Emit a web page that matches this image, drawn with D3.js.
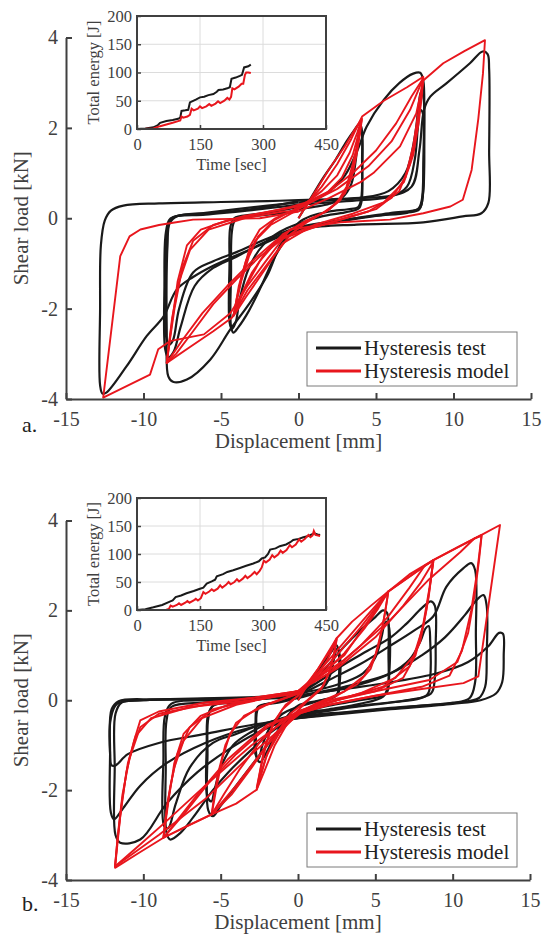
<!DOCTYPE html>
<html>
<head>
<meta charset="utf-8">
<script src="https://cdn.jsdelivr.net/npm/d3@7"></script>
<style>
  body { margin: 0; background: #fff; }
  svg { display: block; font-family: "Liberation Serif", "Times New Roman", serif; }
</style>
</head>
<body>
<script>

// ---- axis ticks
let dispTicks = [-15, -10, -5, 0, 5, 10, 15];
let loadTicks = [-4, -2, 0, 2, 4];
let timeTicks = [0, 150, 300, 450];
let energyTicks = [0, 50, 100, 150, 200];
let seriesNames = ["Hysteresis test", "Hysteresis model"];

// ---- panel a: hysteresis loops [displacement mm, load kN]
let testA = [
  [[0,0],[0.8,0.45],[1.6,0.9],[2.4,1.3],[3.1,1.7],[3.6,1.95],[3.9,2.08],[4.05,2.02],[4.1,1.3],[4.05,0.45],[3.85,0.25],[3.2,0.2],[2,0.15],[0.8,0.05],[0,-0.1],[-0.8,-0.45],[-1.6,-0.9],[-2.4,-1.5],[-3.2,-2.05],[-3.9,-2.42],[-4.2,-2.53],[-4.35,-2.4],[-4.35,-1.2],[-4.3,-0.3],[-4.1,-0.05],[-3.5,0.02],[-2,0.08],[-1,0.12],[0,0.2]],
  [[0,0.2],[1,0.25],[2,0.32],[2.8,0.45],[3.4,0.75],[3.7,1.3],[3.85,1.8],[3.98,1.98],[4.1,1.85],[4.12,1.0],[4.08,0.4],[3.9,0.22],[3,0.13],[1.5,0.04],[0,-0.12],[-1.2,-0.3],[-2.3,-0.6],[-3.2,-1.1],[-3.8,-1.8],[-4.05,-2.3],[-4.3,-2.45],[-4.45,-2.3],[-4.45,-1],[-4.4,-0.2],[-4.15,0],[-3,0.08],[-1.5,0.15],[0,0.25]],
  [[0,0.25],[1,0.4],[2,0.6],[3,0.95],[3.8,1.5],[4.4,2.03],[5.5,2.62],[6.5,2.99],[7.4,3.2],[7.85,3.22],[8.05,3.05],[8.1,2],[8.05,0.6],[7.8,0.2],[7,0.12],[5,0.05],[3,-0.05],[1,-0.15],[0,-0.25],[-1,-0.5],[-2.05,-1.29],[-3.3,-1.95],[-4.4,-2.46],[-5.7,-3.13],[-7.2,-3.57],[-8.1,-3.62],[-8.4,-3.5],[-8.5,-2.5],[-8.45,-0.6],[-8.3,-0.1],[-7.8,0.05],[-6,0.12],[-4,0.2],[-2,0.28],[0,0.35]],
  [[0,0.35],[2,0.4],[4,0.45],[5.8,0.6],[6.9,1.0],[7.5,1.8],[7.75,2.5],[7.9,2.8],[8.05,2.7],[8.1,1.5],[8.0,0.45],[7.8,0.22],[6,0.12],[4,0.02],[2,-0.1],[0,-0.22],[-2,-0.5],[-4,-0.85],[-5.5,-1.1],[-6.7,-1.5],[-7.6,-2.4],[-8.05,-2.95],[-8.4,-3.08],[-8.6,-2.9],[-8.65,-1.5],[-8.55,-0.3],[-8.25,0.0],[-6,0.08],[-3,0.18],[0,0.3]],
  [[0,0.3],[2,0.35],[4,0.4],[6,0.48],[7,0.7],[7.5,1.3],[7.7,2.0],[7.85,2.4],[8.0,2.35],[8.05,1.2],[7.95,0.4],[7.7,0.2],[6,0.1],[3,-0.03],[0,-0.2],[-2,-0.45],[-4,-0.75],[-5.5,-0.95],[-6.8,-1.2],[-7.7,-2.0],[-8.1,-2.7],[-8.35,-2.8],[-8.55,-2.6],[-8.55,-1.2],[-8.45,-0.2],[-8.1,0.02],[-6,0.1],[-3,0.2],[0,0.38]],
  [[0,0.4],[2,0.42],[4,0.45],[6,0.5],[7.3,0.7],[7.8,1.5],[8.1,2.4],[8.5,2.69],[9.56,2.99],[11.06,3.43],[11.88,3.69],[12.2,3.63],[12.3,3.3],[12.3,1.5],[12.25,0.34],[11.8,0.11],[10.6,0.04],[8.05,-0.09],[3.75,-0.14],[0.5,-0.22],[-1,-0.38],[-2.5,-0.6],[-4,-0.82],[-5.5,-1.05],[-6.8,-1.3],[-7.86,-1.58],[-8.7,-2.17],[-9.8,-2.61],[-11.1,-3.28],[-12.4,-3.86],[-12.65,-3.88],[-12.8,-3.7],[-12.8,-2],[-12.75,-0.6],[-12.5,-0.05],[-12.1,0.17],[-11.3,0.28],[-9,0.33],[-5,0.36],[-2,0.38],[0,0.4]]
];

let modelA = [
  [[0,0],[1,0.55],[2,1.1],[3,1.6],[3.6,1.95],[4.08,2.21],[3.9,1.8],[3.5,1.2],[3.1,0.7],[2.5,0.35],[1.5,0.1],[0.5,-0.1],[-0.5,-0.35],[-1.5,-0.8],[-2.5,-1.3],[-3.4,-1.75],[-4.2,-2.17],[-4.0,-1.8],[-3.6,-1.2],[-3.1,-0.6],[-2.5,-0.25],[-1.5,0],[-0.5,0.15],[0.5,0.35]],
  [[0.5,0.35],[1.5,0.6],[2.5,0.95],[3.3,1.45],[3.8,1.9],[4.08,2.2],[3.95,1.9],[3.7,1.4],[3.3,0.8],[2.7,0.4],[1.8,0.15],[0.5,-0.05],[-0.5,-0.25],[-1.5,-0.55],[-2.5,-0.95],[-3.3,-1.45],[-3.9,-1.9],[-4.2,-2.15],[-4.05,-1.95],[-3.7,-1.4],[-3.2,-0.85],[-2.6,-0.4],[-1.6,-0.05],[-0.5,0.15],[0.5,0.3]],
  [[0.5,0.3],[1.8,0.55],[2.8,0.9],[3.5,1.4],[3.9,1.9],[4.08,2.18],[4.0,1.95],[3.8,1.5],[3.5,1.0],[3.0,0.55],[2.0,0.2],[0.5,-0.08],[-1,-0.35],[-2,-0.7],[-3,-1.2],[-3.7,-1.7],[-4.2,-2.15],[-4.1,-2.0],[-3.85,-1.5],[-3.4,-0.95],[-2.8,-0.5],[-1.8,-0.15],[-0.5,0.1],[0.5,0.3]],
  [[0.5,0.3],[1.5,0.7],[2.5,1.2],[3.4,1.75],[4.1,2.25],[5.5,2.6],[7,2.9],[8.05,3.13],[7.8,2.5],[7.4,1.6],[6.9,0.9],[6,0.45],[4.5,0.15],[2.5,-0.05],[0.5,-0.25],[-1,-0.55],[-2.2,-1.1],[-3.3,-1.6],[-4.3,-2.2],[-5.5,-2.5],[-7,-2.85],[-8.5,-3.2],[-8.2,-2.4],[-7.8,-1.4],[-7.2,-0.6],[-6.3,-0.25],[-4.6,-0.05],[-2.5,0.1],[-0.5,0.25],[0.5,0.35]],
  [[0.5,0.35],[2,0.6],[3.5,1.0],[5,1.5],[6.3,2.1],[7.3,2.7],[8.05,3.1],[7.9,2.6],[7.6,1.9],[7.2,1.2],[6.5,0.6],[5,0.2],[3,0],[1,-0.2],[-1,-0.45],[-2.5,-0.85],[-4,-1.35],[-5.5,-1.9],[-6.8,-2.5],[-7.9,-3.0],[-8.5,-3.2],[-8.3,-2.7],[-8.0,-2.0],[-7.5,-1.1],[-6.8,-0.5],[-5.5,-0.15],[-3.5,0.05],[-1,0.2],[0.5,0.3]],
  [[0.5,0.3],[2.5,0.65],[4.5,1.15],[6,1.7],[7.2,2.4],[8.05,3.1],[7.95,2.7],[7.75,2.1],[7.4,1.4],[6.8,0.8],[5.5,0.35],[3.5,0.1],[1,-0.15],[-1.5,-0.5],[-3,-0.95],[-4.6,-1.5],[-6.2,-2.1],[-7.5,-2.7],[-8.5,-3.2],[-8.4,-2.9],[-8.15,-2.2],[-7.7,-1.4],[-7.0,-0.7],[-5.8,-0.25],[-3.5,0.0],[-1,0.15],[0,0.15]],
  [[0,0.15],[2,0.45],[4,0.8],[4.83,1.0],[6.55,1.59],[7.6,2.32],[8.05,3.05],[9.34,3.43],[10.7,3.7],[12.03,3.94],[11.9,3.2],[11.6,2.2],[11.17,1.07],[10.6,0.41],[9.8,0.26],[8.05,0.11],[5.9,-0.03],[2.7,-0.09],[-0.55,-0.25],[-2,-0.9],[-3.3,-1.5],[-4.4,-2.1],[-6.1,-2.57],[-8.3,-2.72],[-9.05,-2.9],[-9.58,-3.46],[-12.6,-3.97],[-11.5,-0.84],[-10.9,-0.4],[-10.2,-0.25],[-9,-0.15],[-8.1,-0.1],[-6.8,-0.03],[-2.5,0.0],[0,0.15]]
];

// ---- panel a: total energy [time sec, energy J]
let energyTestA = [[0,0],[20,1],[39,3],[50,7],[55,11],[70,14],[85,16],[98,18],[103,20],[106,32],[115,33],[122,34],[126,47],[140,52],[150,56],[160,57],[170,60],[182,62],[190,66],[194,69],[205,70],[215,72],[221,74],[225,89],[235,91],[245,94],[250,96],[255,109],[265,111],[271,114]];
let energyModelA = [[0,0],[20,0.3],[39,1],[55,5],[70,8],[85,11],[98,14],[103,15],[106,22],[110,20],[120,22],[126,25],[130,36],[135,33],[145,36],[150,40],[155,37],[165,40],[172,44],[177,41],[187,45],[193,49],[198,46],[208,50],[215,55],[220,52],[224,57],[227,72],[232,70],[242,75],[249,80],[253,80],[257,96],[260,100],[265,100],[271,99]];

// ---- panel b: hysteresis loops
let testB = [
  [[0,0],[0.8,0.4],[1.6,0.8],[2.2,1.1],[2.45,1.23],[2.6,1.15],[2.65,0.5],[2.55,0.15],[2.2,0.05],[1.2,-0.02],[0,-0.12],[-0.8,-0.4],[-1.5,-0.8],[-2.1,-1.2],[-2.45,-1.38],[-2.65,-1.3],[-2.7,-0.6],[-2.6,-0.2],[-2.2,-0.1],[-1.2,-0.05],[0,0.05]],
  [[0,0.05],[1,0.15],[1.8,0.35],[2.2,0.7],[2.4,1.05],[2.55,1.15],[2.7,1.0],[2.7,0.4],[2.55,0.12],[1.5,0.0],[0,-0.15],[-1,-0.3],[-1.8,-0.6],[-2.3,-1.0],[-2.55,-1.3],[-2.75,-1.2],[-2.75,-0.5],[-2.6,-0.15],[-1.5,-0.05],[0,0.08]],
  [[0,0.08],[1,0.4],[2,0.8],[3,1.2],[4,1.55],[5,1.85],[5.5,2.0],[5.75,1.95],[5.85,1.0],[5.8,0.3],[5.5,0.08],[4,-0.08],[2,-0.2],[0,-0.32],[-1,-0.6],[-2,-1.0],[-3,-1.45],[-4,-1.9],[-5,-2.35],[-5.5,-2.58],[-5.8,-2.45],[-5.85,-1.2],[-5.8,-0.4],[-5.5,-0.12],[-4,-0.05],[-2,0.05],[0,0.15]],
  [[0,0.15],[1.5,0.25],[3,0.4],[4.2,0.6],[5,0.95],[5.4,1.4],[5.6,1.7],[5.75,1.75],[5.9,1.6],[5.9,0.6],[5.7,0.15],[4,0.0],[2,-0.12],[0,-0.3],[-1.5,-0.45],[-3,-0.7],[-4.2,-1.0],[-5,-1.5],[-5.4,-2.0],[-5.6,-2.25],[-5.85,-2.15],[-5.9,-1.0],[-5.8,-0.3],[-5.4,-0.1],[-3,0.0],[0,0.12]],
  [[0,0.12],[1.5,0.45],[3,0.8],[4.5,1.1],[6,1.4],[7,1.7],[8,2.05],[8.6,2.2],[8.85,2.1],[8.9,1.2],[8.85,0.5],[8.6,0.15],[7,0.0],[4,-0.12],[2,-0.22],[0,-0.35],[-1.5,-0.65],[-3,-1.1],[-4.5,-1.6],[-5.5,-2.0],[-6.77,-2.6],[-7.6,-2.95],[-8.27,-3.1],[-8.5,-2.95],[-8.55,-1.5],[-8.5,-0.45],[-8.2,-0.15],[-6,-0.05],[-3,0.02],[0,0.1]],
  [[0,0.1],[2,0.2],[4,0.35],[6,0.6],[7.2,0.9],[7.9,1.3],[8.25,1.6],[8.45,1.65],[8.55,1.3],[8.55,0.5],[8.35,0.12],[6,-0.05],[3,-0.18],[0,-0.35],[-2,-0.5],[-4,-0.75],[-5.5,-0.95],[-7,-1.5],[-7.9,-2.3],[-8.4,-2.85],[-8.65,-2.8],[-8.7,-1.3],[-8.6,-0.35],[-8.2,-0.08],[-5,0.0],[0,0.1]],
  [[0,0.1],[2,0.45],[4,0.8],[5.9,1.2],[7.5,1.55],[8.75,1.87],[9.6,2.53],[10.7,2.94],[11.2,3.05],[11.45,2.9],[11.5,1.5],[11.45,0.4],[11.1,0.05],[10,-0.06],[8,-0.12],[4,-0.25],[0,-0.37],[-2.5,-0.7],[-4.5,-1.1],[-6.5,-1.6],[-8.5,-2.3],[-10.2,-3.1],[-11.5,-3.17],[-11.8,-3.0],[-11.85,-1.5],[-11.8,-0.3],[-11.4,-0.05],[-10,0.0],[-6,0.03],[-3,0.05],[0,0.1]],
  [[0,0.1],[3,0.3],[6,0.6],[8,1.0],[9.5,1.4],[10.8,1.9],[11.6,2.25],[12.0,2.34],[12.2,2.1],[12.2,1.0],[12.1,0.3],[11.7,0.05],[10,-0.06],[6,-0.17],[3,-0.27],[0,-0.4],[-3,-0.6],[-6,-0.95],[-8.5,-1.4],[-10.2,-1.9],[-11.3,-2.4],[-11.9,-2.65],[-12.1,-2.5],[-12.15,-1.2],[-12.05,-0.2],[-11.6,-0.02],[-9,0.02],[-4,0.06],[0,0.1]],
  [[0,0.1],[3,0.25],[6,0.4],[9,0.6],[11,0.85],[12.3,1.2],[13.0,1.5],[13.25,1.48],[13.3,1.0],[13.2,0.4],[12.8,0.15],[11.8,0.0],[10,-0.08],[6,-0.2],[3,-0.3],[0,-0.4],[-3,-0.55],[-6,-0.75],[-9,-0.95],[-11,-1.2],[-11.8,-1.45],[-12.05,-1.45],[-12.15,-1.2],[-12.1,-0.4],[-11.7,-0.08],[-10,0],[-6,0.02],[0,0.05]]
];

let modelB = [
  [[0,0],[1,0.55],[2,1.05],[2.5,1.38],[2.3,1.0],[2.0,0.6],[1.5,0.25],[0.5,-0.05],[-0.5,-0.4],[-1.5,-1.0],[-2.2,-1.6],[-2.67,-1.99],[-2.4,-1.5],[-2.0,-0.9],[-1.5,-0.45],[-0.8,-0.1],[0,0.1]],
  [[0,0.1],[1,0.45],[1.9,0.9],[2.5,1.35],[2.35,1.05],[2.1,0.7],[1.6,0.3],[0.6,0.0],[-0.5,-0.3],[-1.4,-0.75],[-2.1,-1.3],[-2.67,-1.95],[-2.5,-1.65],[-2.2,-1.1],[-1.7,-0.6],[-1.0,-0.2],[0,0.1]],
  [[0,0.1],[1.3,0.7],[2.5,1.38],[3.5,1.75],[4.7,2.1],[5.84,2.42],[5.6,1.9],[5.2,1.2],[4.7,0.7],[3.8,0.35],[2.5,0.1],[0.5,-0.2],[-1,-0.6],[-2,-1.2],[-2.67,-1.99],[-4,-2.3],[-5.58,-2.54],[-5.3,-2.0],[-4.9,-1.3],[-4.4,-0.75],[-3.5,-0.35],[-2,-0.1],[0,0.15]],
  [[0,0.15],[1.5,0.55],[3,1.05],[4.3,1.6],[5.2,2.05],[5.84,2.42],[5.7,2.1],[5.45,1.6],[5.0,1.0],[4.3,0.55],[3,0.2],[1,-0.1],[-1,-0.45],[-2.5,-0.95],[-3.8,-1.55],[-4.8,-2.1],[-5.58,-2.54],[-5.45,-2.2],[-5.15,-1.6],[-4.7,-1.0],[-4.0,-0.5],[-2.5,-0.15],[0,0.15]],
  [[0,0.15],[1.5,0.7],[3,1.3],[4.5,1.9],[5.84,2.42],[7.2,2.8],[8.75,3.12],[8.5,2.5],[8.1,1.7],[7.6,1.0],[6.8,0.5],[5,0.2],[2.5,0],[0,-0.25],[-1.5,-0.75],[-3,-1.5],[-4.3,-2.1],[-5.58,-2.54],[-7.2,-2.8],[-8.7,-3.06],[-8.4,-2.3],[-8.0,-1.4],[-7.4,-0.75],[-6.3,-0.35],[-4.5,-0.1],[-2,0.05],[0,0.2]],
  [[0,0.2],[2,0.6],[4,1.2],[5.8,1.85],[7.2,2.5],[8.2,3.0],[8.75,3.1],[8.6,2.7],[8.3,2.0],[7.9,1.3],[7.2,0.75],[5.5,0.3],[3,0.05],[0,-0.25],[-2,-0.6],[-4,-1.2],[-5.8,-1.85],[-7.3,-2.5],[-8.7,-3.06],[-8.55,-2.6],[-8.25,-1.9],[-7.8,-1.2],[-7.0,-0.6],[-5.5,-0.2],[-3,0.0],[0,0.2]],
  [[0,0.2],[2.5,0.7],[5,1.4],[6.8,2.1],[7.9,2.6],[8.75,3.08],[8.65,2.85],[8.45,2.3],[8.1,1.65],[7.5,1.0],[6.3,0.5],[4,0.15],[1,-0.15],[-2,-0.55],[-4.5,-1.3],[-6.5,-2.1],[-8.7,-3.06],[-8.6,-2.75],[-8.4,-2.2],[-8.0,-1.5],[-7.4,-0.9],[-6.2,-0.4],[-4,-0.1],[0,0.2]],
  [[0,0.2],[2,0.8],[4,1.6],[5.84,2.42],[8.75,3.12],[10.3,3.4],[11.87,3.68],[11.6,2.9],[11.2,2.0],[10.6,1.1],[9.8,0.55],[8,0.3],[5,0.1],[2,-0.1],[0,-0.3],[-2,-1.0],[-4,-1.9],[-5.58,-2.54],[-8.7,-3.06],[-10.3,-3.4],[-11.83,-3.73],[-11.5,-2.6],[-11.1,-1.6],[-10.6,-0.9],[-10.2,-0.45],[-9,-0.25],[-6,-0.05],[-3,0.05],[0,0.2]],
  [[0,0.2],[3,0.9],[6,1.8],[8.5,2.7],[10.5,3.3],[11.4,3.6],[11.87,3.66],[11.7,3.1],[11.4,2.3],[11.0,1.5],[10.3,0.85],[8.5,0.45],[5,0.2],[2,0],[0,-0.25],[-3,-1.0],[-6,-1.9],[-8.7,-2.75],[-10.5,-3.3],[-11.83,-3.7],[-11.65,-3.0],[-11.35,-2.1],[-10.9,-1.3],[-10.2,-0.6],[-9,-0.3],[-6,-0.1],[-3,0.05],[0,0.2]],
  [[0,0.2],[3,1.0],[5.84,2.42],[8.75,3.12],[11.87,3.68],[13.06,3.9],[11.66,0.53],[10.7,0.38],[8,0.25],[5,0.1],[2,-0.1],[0,-0.3],[-3,-1.2],[-6,-2.2],[-9,-3.0],[-11.83,-3.7],[-11.7,-3.2],[-11.4,-2.3],[-11.0,-1.4],[-10.5,-0.8],[-9.5,-0.4],[-7,-0.15],[-3,0.0],[0,0.15]]
];

// ---- panel b: total energy
let energyTestB = [[0,0],[20,1.5],[39,4.8],[60,9],[78,15],[85,17],[92,23],[105,26],[118,30],[135,34],[150,38],[158,40],[166,47],[178,51],[186,54],[190,60],[205,64],[215,68],[229,71],[245,75],[260,79],[277,83],[290,87],[297,92],[305,94],[312,100],[317,108],[330,110],[340,114],[355,117],[365,121],[372,125],[385,127],[396,130],[408,132],[416,135],[422,137],[430,135],[436,134]];
let energyModelB = [[0,0],[40,0],[70,0.5],[76,2],[80,8],[85,6],[95,9],[100,12],[105,9],[115,13],[120,16],[125,13],[135,17],[140,20],[145,17],[152,21],[158,32],[163,29],[172,33],[178,37],[183,34],[192,38],[198,44],[203,40],[212,45],[218,50],[223,46],[232,50],[238,55],[243,51],[252,56],[258,61],[263,57],[272,62],[280,68],[285,64],[292,70],[297,76],[302,88],[307,85],[316,90],[322,98],[327,94],[336,99],[342,106],[347,102],[356,107],[364,116],[369,112],[378,117],[386,126],[391,122],[400,127],[408,134],[413,130],[418,133],[421,141],[425,134],[436,132]];

let black = "#1a1a1a",
    red = "#e8161d",
    axisColor = "#404040";

init();

function init() {
  let svg = d3.select("body")
              .append("svg")
              .attr("width", 542)
              .attr("height", 937);

  svg.append("rect").attr("width", 542).attr("height", 937).attr("fill", "#fff");

  drawPanel(svg, {
    tag: "a.", tagY: 432,
    x: [66, 531], y: [399, 37.5],
    inset: {x: [137, 326], y: [129, 16]},
    legendY: 332,
    test: testA, model: modelA,
    eTest: energyTestA, eModel: energyModelA
  });

  drawPanel(svg, {
    tag: "b.", tagY: 911,
    x: [66, 530], y: [880, 520.5],
    inset: {x: [137, 326], y: [610, 498]},
    legendY: 813,
    test: testB, model: modelB,
    eTest: energyTestB, eModel: energyModelB
  });
}

function drawPanel(svg, p) {
  let x = d3.scaleLinear().domain([-15, 15]).range(p.x),
      y = d3.scaleLinear().domain([-4, 4]).range(p.y);

  let g = svg.append("g");

  // test curves are smooth, model curves piecewise
  let smoothLine = d3.line()
                     .x(d => x(d[0]))
                     .y(d => y(d[1]))
                     .curve(d3.curveCatmullRom.alpha(0.5));
  let line = d3.line()
               .x(d => x(d[0]))
               .y(d => y(d[1]));

  g.selectAll(".test")
   .data(p.test)
   .enter()
   .append("path")
   .attr("d", smoothLine)
   .attr("fill", "none")
   .attr("stroke", black)
   .attr("stroke-width", 2.2)
   .attr("stroke-linejoin", "round");

  g.selectAll(".model")
   .data(p.model)
   .enter()
   .append("path")
   .attr("d", line)
   .attr("fill", "none")
   .attr("stroke", red)
   .attr("stroke-width", 1.9)
   .attr("stroke-linejoin", "round");

  // axes (left + bottom only, ticks inward)
  let yAxis = g.append("g")
               .attr("transform", "translate(" + p.x[0] + ",0)")
               .call(d3.axisLeft(y).tickValues(loadTicks).tickSize(-6).tickSizeOuter(0)
                       .tickPadding(8).tickFormat(d => String(d)));
  let xAxis = g.append("g")
               .attr("transform", "translate(0," + p.y[0] + ")")
               .call(d3.axisBottom(x).tickValues(dispTicks).tickSize(-6).tickSizeOuter(0)
                       .tickPadding(13).tickFormat(d => String(d)));

  [yAxis, xAxis].forEach(a => {
    a.select(".domain").attr("stroke", axisColor).attr("stroke-width", 2);
    a.selectAll(".tick line").attr("stroke", axisColor).attr("stroke-width", 2);
    a.selectAll(".tick text")
     .attr("fill", axisColor)
     .style("font-size", "20px")
     .style("font-family", "'Liberation Serif', serif");
  });

  g.append("text")
   .attr("transform", "translate(28," + (p.y[0] + p.y[1]) / 2 + ") rotate(-90)")
   .attr("text-anchor", "middle")
   .attr("fill", axisColor)
   .style("font-size", "21px")
   .text("Shear load [kN]");

  g.append("text")
   .attr("x", (p.x[0] + p.x[1]) / 2)
   .attr("y", p.y[0] + 49)
   .attr("text-anchor", "middle")
   .attr("fill", axisColor)
   .style("font-size", "21px")
   .text("Displacement [mm]");

  g.append("text")
   .attr("x", 22)
   .attr("y", p.tagY)
   .attr("fill", "#222")
   .style("font-size", "22px")
   .text(p.tag);

  drawLegend(g, p.legendY);
  drawInset(g, p);
}

function drawLegend(g, top) {
  let lg = g.append("g").attr("transform", "translate(307," + top + ")");

  lg.append("rect")
    .attr("width", 210)
    .attr("height", 54)
    .attr("fill", "#fff")
    .attr("stroke", "#7a7a7a")
    .attr("stroke-width", 1);

  lg.selectAll(".item")
    .data(seriesNames)
    .enter()
    .append("g")
    .attr("transform", (d, i) => "translate(0," + (16 + i * 23) + ")")
    .each(function(d, i) {
      let it = d3.select(this);
      it.append("line")
        .attr("x1", 9).attr("x2", 54)
        .attr("stroke", i === 0 ? black : red)
        .attr("stroke-width", 3);
      it.append("text")
        .attr("x", 57)
        .attr("y", 7)
        .attr("fill", "#222")
        .style("font-size", "21px")
        .text(d);
    });
}

function drawInset(g, p) {
  let ix = d3.scaleLinear().domain([0, 450]).range(p.inset.x),
      iy = d3.scaleLinear().domain([0, 200]).range(p.inset.y);

  let ig = g.append("g");

  ig.append("rect")
    .attr("x", p.inset.x[0]).attr("y", p.inset.y[1])
    .attr("width", p.inset.x[1] - p.inset.x[0])
    .attr("height", p.inset.y[0] - p.inset.y[1])
    .attr("fill", "#fff");

  // grid
  ig.selectAll(".gx")
    .data(timeTicks.slice(1, -1))
    .enter()
    .append("line")
    .attr("x1", d => ix(d)).attr("x2", d => ix(d))
    .attr("y1", p.inset.y[0]).attr("y2", p.inset.y[1])
    .attr("stroke", "#dcdcdc").attr("stroke-width", 1);
  ig.selectAll(".gy")
    .data(energyTicks.slice(1, -1))
    .enter()
    .append("line")
    .attr("y1", d => iy(d)).attr("y2", d => iy(d))
    .attr("x1", p.inset.x[0]).attr("x2", p.inset.x[1])
    .attr("stroke", "#dcdcdc").attr("stroke-width", 1);

  let eLine = d3.line().x(d => ix(d[0])).y(d => iy(d[1]));

  ig.append("path").datum(p.eTest)
    .attr("d", eLine).attr("fill", "none")
    .attr("stroke", black).attr("stroke-width", 2);
  ig.append("path").datum(p.eModel)
    .attr("d", eLine).attr("fill", "none")
    .attr("stroke", red).attr("stroke-width", 2);

  ig.append("rect")
    .attr("x", p.inset.x[0]).attr("y", p.inset.y[1])
    .attr("width", p.inset.x[1] - p.inset.x[0])
    .attr("height", p.inset.y[0] - p.inset.y[1])
    .attr("fill", "none")
    .attr("stroke", axisColor)
    .attr("stroke-width", 2);

  let ax = ig.append("g")
             .attr("transform", "translate(0," + p.inset.y[0] + ")")
             .call(d3.axisBottom(ix).tickValues(timeTicks).tickSize(-4).tickSizeOuter(0).tickPadding(9));
  let ay = ig.append("g")
             .attr("transform", "translate(" + p.inset.x[0] + ",0)")
             .call(d3.axisLeft(iy).tickValues(energyTicks).tickSize(-4).tickSizeOuter(0).tickPadding(5));

  [ax, ay].forEach(a => {
    a.select(".domain").remove();
    a.selectAll(".tick line").attr("stroke", axisColor).attr("stroke-width", 1.5);
    a.selectAll(".tick text")
     .attr("fill", axisColor)
     .style("font-size", "16.5px")
     .style("font-family", "'Liberation Serif', serif");
  });

  ig.append("text")
    .attr("x", (p.inset.x[0] + p.inset.x[1]) / 2)
    .attr("y", p.inset.y[0] + 41)
    .attr("text-anchor", "middle")
    .attr("fill", axisColor)
    .style("font-size", "16.5px")
    .text("Time [sec]");

  ig.append("text")
    .attr("transform", "translate(99," + (p.inset.y[0] + p.inset.y[1]) / 2 + ") rotate(-90)")
    .attr("text-anchor", "middle")
    .attr("fill", axisColor)
    .style("font-size", "16.5px")
    .text("Total energy [J]");
}
</script>
</body>
</html>
